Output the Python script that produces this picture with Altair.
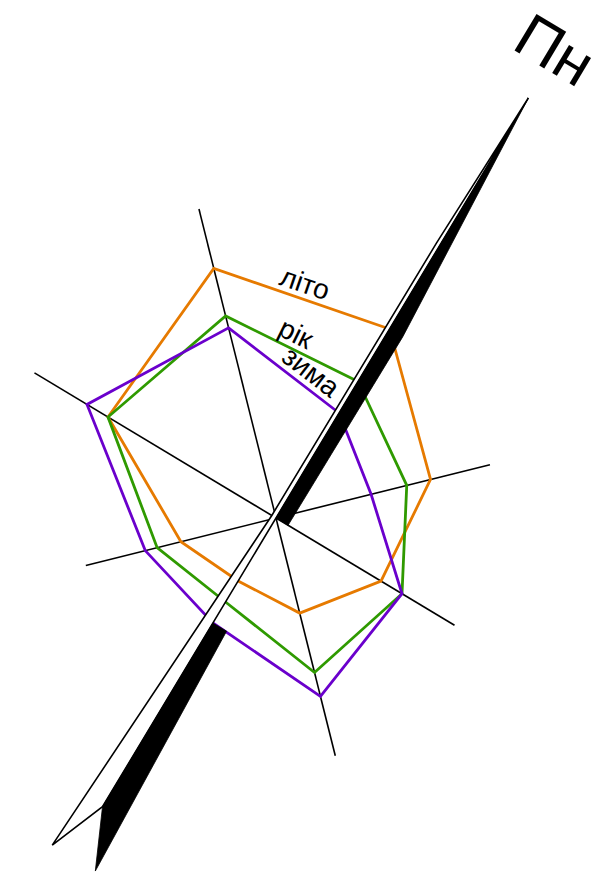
import altair as alt
import pandas as pd
import numpy as np

# ---- data (wind frequency, %) ----
directions = ["Пн", "ПнСх", "Сх", "ПдСх", "Пд", "ПдЗх", "Зх", "ПнЗх"]
seasons = ["літо", "рік", "зима"]
summer = [18, 13, 10, 8, 6, 8, 16, 21]
year = [13, 11, 12, 13, 8, 10, 16, 17]
winter = [10, 8, 12, 15, 10, 11, 18, 16]
colors = ["#e67a00", "#2f9a00", "#6a00cc"]
north_label = "Пн"

# ---- style / layout constants ----
ROT = 31.0            # rotation of north on the page (deg, clockwise)
AXIS_EXTRA = 5        # axis lines extend beyond the largest value
LABEL_FRAC = {"літо": 0.49, "рік": 0.48, "зима": 0.66}
W, H = 588, 875
PX = 12.25            # px per unit
CX, CY = 268, 510     # centre in plot px
xdom = [-CX / PX, (W - CX) / PX]
ydom = [-(H - CY) / PX, CY / PX]


def polar(r, deg):
    a = np.radians(deg)
    return r * np.sin(a), r * np.cos(a)


series = {"літо": summer, "рік": year, "зима": winter}

# polygons
rows = []
for s in seasons:
    vals = series[s]
    for k in range(len(vals) + 1):
        i = k % len(vals)
        x, y = polar(vals[i], i * 45 + ROT)
        rows.append(dict(season=s, k=k, x=x, y=y))
poly = pd.DataFrame(rows)

# axis lines
ax_rows = []
for i, d in enumerate(directions):
    if d in ("Пн", "Пд"):
        continue
    L = max(summer[i], year[i], winter[i]) + AXIS_EXTRA
    x2, y2 = polar(L, i * 45 + ROT)
    ax_rows.append(dict(d=d, x=0.0, y=0.0, x2=x2, y2=y2))
axes = pd.DataFrame(ax_rows)

# north arrow, shape given as (along, lateral) in units of the radial scale
ua = np.array([np.sin(np.radians(ROT)), np.cos(np.radians(ROT))])
ue = np.array([np.cos(np.radians(ROT)), -np.sin(np.radians(ROT))])
TIP, TAIL, NOTCH = 40.0, -32.3, -27.5
GAP = -10.0

white_pts = [(TIP, 0), (26, -0.33), (0, -0.4), (TAIL, -1.9), (NOTCH, 0), (TIP, 0)]
black_n_pts = [(TIP, 0), (18, 1.25), (0, 1.15), (0, 0), (TIP, 0)]
black_s_pts = [(GAP, 0), (GAP, 1.3), (TAIL, 2.2), (NOTCH, 0), (GAP, 0)]


def frame(pts, name):
    out = []
    for k, (a, e) in enumerate(pts):
        p = a * ua + e * ue
        out.append(dict(part=name, k=k, x=p[0], y=p[1]))
    return pd.DataFrame(out)


white_df = frame(white_pts, "white")
black_df = pd.concat([frame(black_n_pts, "bn"), frame(black_s_pts, "bs")])

# labels on the NW -> N edge
lab_rows = []
for s in seasons:
    vals = series[s]
    p0 = np.array(polar(vals[7], 7 * 45 + ROT))
    p1 = np.array(polar(vals[0], ROT))
    t = LABEL_FRAC[s]
    p = p0 + t * (p1 - p0)
    v = p1 - p0
    ang = np.degrees(np.arctan2(-v[1], v[0])) % 360
    lab_rows.append(dict(season=s, x=p[0], y=p[1], ang=ang))
labels = pd.DataFrame(lab_rows)

npos = 44.3 * ua - 0.15 * ue
north = pd.DataFrame([dict(t=north_label, x=npos[0], y=npos[1], ang=ROT)])

xs = alt.Scale(domain=xdom, nice=False, zero=False)
ys = alt.Scale(domain=ydom, nice=False, zero=False)
X = lambda f="x": alt.X(f"{f}:Q", scale=xs, axis=None)
Y = lambda f="y": alt.Y(f"{f}:Q", scale=ys, axis=None)

axis_layer = alt.Chart(axes).mark_rule(color="black", strokeWidth=1.6).encode(
    x=X(), y=Y(), x2="x2:Q", y2="y2:Q"
)

poly_layer = alt.Chart(poly).mark_line(strokeWidth=2.8, strokeJoin="miter").encode(
    x=X(), y=Y(), order="k:Q",
    color=alt.Color("season:N", scale=alt.Scale(domain=seasons, range=colors), legend=None),
    detail="season:N",
)

white_layer = alt.Chart(white_df).mark_line(
    fill="white", stroke="black", strokeWidth=1.6, strokeJoin="miter"
).encode(x=X(), y=Y(), order="k:Q")

black_layer = alt.Chart(black_df).mark_line(
    fill="black", stroke="black", strokeWidth=0.8, strokeJoin="miter"
).encode(x=X(), y=Y(), order="k:Q", detail="part:N")

label_layer = alt.Chart(labels).mark_text(
    font="Liberation Sans", fontSize=28, baseline="middle", align="center", dy=-14, color="black"
).encode(x=X(), y=Y(), text="season:N", angle=alt.Angle("ang:Q", scale=None))

north_layer = alt.Chart(north).mark_text(
    font="Liberation Sans", fontSize=62, baseline="middle", align="center", color="black"
).encode(x=X(), y=Y(), text="t:N", angle=alt.Angle("ang:Q", scale=None))

chart = alt.layer(
    axis_layer, poly_layer, white_layer, black_layer, label_layer, north_layer
).properties(
    width=W, height=H, padding=0, autosize=alt.AutoSizeParams(type="none")
).configure_view(stroke=None)

chart.save("out.html", embed_options={"renderer": "svg", "actions": False})
